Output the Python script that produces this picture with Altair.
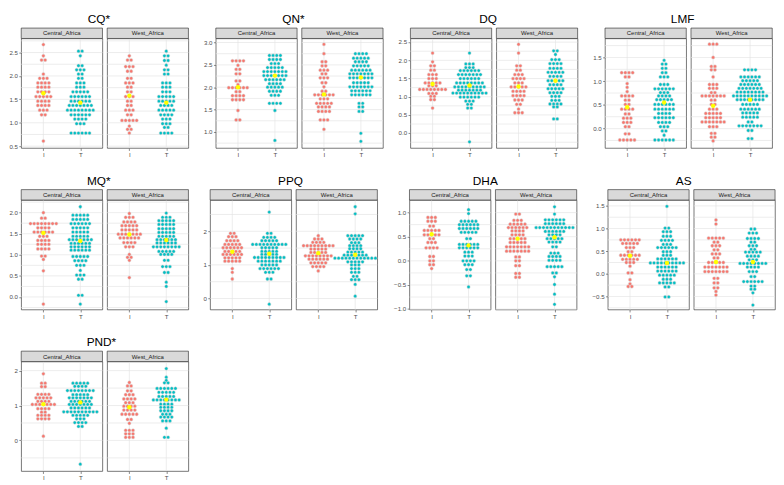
import altair as alt
import pandas as pd

REGIONS = ["Central_Africa", "West_Africa"]
GROUPS = ["I", "T"]
GROUP_COLORS = ["#F8766D", "#00BFC4"]
MEAN_COLOR = "#FFFF00"

PANEL_ROWS = [["CQ*", "QN*", "DQ", "LMF"], ["MQ*", "PPQ", "DHA", "AS"], ["PND*"]]

# (value, number of dots in that row) for each group
CQ_CA_I = [(2.67, 1), (2.43, 1), (2.34, 2), (2.04, 1), (1.95, 3), (1.85, 4), (1.76, 4), (1.66, 4), (1.56, 5), (1.46, 4), (1.37, 4), (1.27, 3), (1.17, 2), (0.61, 1)]
CQ_CA_T = [(2.53, 2), (2.43, 1), (2.22, 2), (2.13, 3), (2.04, 2), (1.95, 2), (1.85, 3), (1.76, 3), (1.66, 5), (1.56, 6), (1.46, 6), (1.37, 7), (1.27, 8), (1.17, 6), (1.08, 4), (0.98, 3), (0.78, 6)]
CQ_WA_I = [(2.43, 1), (2.34, 2), (2.20, 3), (2.10, 2), (1.95, 2), (1.85, 3), (1.76, 2), (1.66, 2), (1.56, 3), (1.46, 2), (1.37, 2), (1.27, 3), (1.17, 2), (1.05, 5), (0.93, 1), (0.86, 2), (0.78, 1)]
CQ_WA_T = [(2.53, 1), (2.43, 2), (2.33, 2), (2.23, 1), (2.13, 2), (2.04, 2), (1.85, 3), (1.76, 3), (1.66, 3), (1.56, 5), (1.46, 5), (1.37, 4), (1.27, 5), (1.17, 4), (1.08, 3), (0.98, 3), (0.90, 2), (0.78, 4)]

QN_CA_I = [(2.59, 4), (2.49, 1), (2.40, 2), (2.30, 2), (2.14, 2), (2.06, 1), (1.99, 6), (1.90, 2), (1.81, 4), (1.72, 4), (1.48, 1), (1.27, 2)]
QN_CA_T = [(2.71, 4), (2.62, 4), (2.53, 3), (2.44, 5), (2.35, 7), (2.26, 7), (2.17, 6), (2.08, 4), (2.00, 5), (1.91, 4), (1.82, 3), (1.64, 4), (1.48, 1), (0.81, 1)]
QN_WA_I = [(2.96, 1), (2.75, 1), (2.57, 2), (2.48, 2), (2.38, 3), (2.30, 2), (2.21, 3), (2.10, 2), (2.01, 1), (1.91, 2), (1.83, 6), (1.74, 3), (1.64, 5), (1.56, 4), (1.46, 4), (1.27, 3), (1.06, 1)]
QN_WA_T = [(2.75, 4), (2.65, 5), (2.57, 4), (2.48, 5), (2.38, 6), (2.30, 7), (2.21, 7), (2.10, 5), (2.01, 7), (1.92, 6), (1.83, 6), (1.64, 2), (1.56, 2), (1.46, 2), (0.97, 1), (0.79, 1)]

DQ_CA_I = [(2.20, 1), (1.96, 1), (1.85, 2), (1.73, 2), (1.61, 3), (1.50, 3), (1.38, 5), (1.30, 3), (1.20, 8), (1.09, 3), (1.01, 2), (0.92, 2), (0.69, 1)]
DQ_CA_T = [(2.20, 1), (1.90, 3), (1.80, 3), (1.72, 6), (1.61, 7), (1.50, 6), (1.38, 8), (1.27, 9), (1.18, 7), (1.10, 10), (0.99, 6), (0.88, 3), (0.79, 2), (0.69, 2), (-0.24, 1)]
DQ_WA_I = [(2.44, 1), (2.20, 1), (1.85, 2), (1.73, 2), (1.61, 3), (1.50, 4), (1.38, 3), (1.27, 5), (1.15, 4), (1.03, 4), (0.91, 3), (0.79, 2), (0.66, 1), (0.56, 3)]
DQ_WA_T = [(2.26, 2), (2.16, 1), (2.02, 3), (1.91, 4), (1.78, 4), (1.67, 5), (1.56, 4), (1.44, 5), (1.33, 4), (1.22, 5), (1.11, 4), (1.01, 3), (0.90, 3), (0.80, 4), (0.72, 2), (0.39, 2)]

LMF_CA_I = [(1.18, 4), (1.09, 2), (0.95, 1), (0.87, 1), (0.78, 1), (0.69, 4), (0.60, 2), (0.51, 2), (0.41, 4), (0.31, 2), (0.22, 3), (0.13, 3), (0.04, 2), (-0.11, 2), (-0.24, 5)]
LMF_CA_T = [(1.44, 1), (1.36, 2), (1.27, 2), (1.18, 2), (1.09, 3), (0.93, 3), (0.84, 6), (0.76, 3), (0.69, 4), (0.61, 5), (0.51, 6), (0.41, 6), (0.32, 4), (0.23, 6), (0.13, 4), (0.04, 3), (-0.05, 2), (-0.14, 1), (-0.24, 6)]
LMF_WA_I = [(1.78, 3), (1.50, 1), (1.31, 2), (1.24, 2), (1.09, 1), (0.93, 3), (0.85, 3), (0.76, 2), (0.69, 7), (0.60, 2), (0.51, 2), (0.41, 3), (0.32, 5), (0.23, 5), (0.14, 7), (0.04, 3), (-0.10, 2), (-0.18, 2), (-0.26, 1)]
LMF_WA_T = [(1.24, 4), (1.09, 6), (1.01, 5), (0.93, 6), (0.85, 7), (0.77, 8), (0.69, 10), (0.61, 8), (0.51, 5), (0.41, 6), (0.33, 5), (0.24, 5), (0.14, 2), (0.06, 7), (-0.04, 2), (-0.21, 2)]

MQ_CA_I = [(2.00, 1), (1.87, 2), (1.74, 8), (1.64, 4), (1.54, 6), (1.44, 3), (1.34, 4), (1.25, 4), (1.14, 4), (0.97, 2), (0.89, 1), (0.62, 1), (-0.17, 1)]
MQ_CA_T = [(2.14, 1), (1.94, 5), (1.84, 5), (1.74, 6), (1.64, 5), (1.54, 5), (1.44, 5), (1.36, 7), (1.27, 6), (1.19, 6), (1.11, 6), (0.96, 5), (0.86, 4), (0.75, 3), (0.63, 1), (0.52, 3), (0.42, 2), (0.04, 2), (-0.17, 1)]
MQ_WA_I = [(1.98, 1), (1.89, 3), (1.78, 4), (1.69, 5), (1.59, 5), (1.49, 7), (1.40, 6), (1.29, 4), (1.19, 3), (1.01, 1), (0.94, 2), (0.87, 1), (0.46, 1)]
MQ_WA_T = [(1.99, 1), (1.89, 3), (1.81, 5), (1.72, 5), (1.62, 5), (1.53, 5), (1.44, 5), (1.36, 6), (1.28, 6), (1.19, 8), (1.08, 5), (1.01, 4), (0.87, 2), (0.72, 3), (0.58, 2), (0.35, 1), (0.25, 1), (-0.11, 1)]

PPQ_CA_I = [(1.94, 2), (1.84, 3), (1.72, 4), (1.61, 5), (1.51, 6), (1.40, 5), (1.31, 6), (1.21, 5), (1.11, 5), (0.89, 1), (0.78, 1), (0.58, 1)]
PPQ_CA_T = [(2.57, 1), (1.94, 2), (1.82, 4), (1.72, 5), (1.61, 10), (1.51, 5), (1.40, 5), (1.31, 5), (1.22, 9), (1.11, 7), (1.00, 5), (0.89, 6), (0.78, 3), (0.58, 2), (-0.17, 1)]
PPQ_WA_I = [(1.87, 1), (1.77, 3), (1.67, 4), (1.57, 9), (1.47, 5), (1.37, 5), (1.27, 8), (1.17, 6), (1.06, 5), (0.95, 4), (0.82, 1)]
PPQ_WA_T = [(2.73, 1), (2.52, 1), (1.87, 5), (1.77, 4), (1.66, 3), (1.57, 4), (1.48, 4), (1.38, 5), (1.29, 7), (1.20, 12), (1.09, 5), (1.00, 3), (0.89, 3), (0.78, 3), (0.66, 2), (0.56, 3), (0.42, 1), (0.07, 1)]

DHA_CA_I = [(0.90, 3), (0.82, 3), (0.72, 2), (0.63, 5), (0.54, 5), (0.46, 2), (0.38, 3), (0.27, 4), (0.09, 2), (0.00, 2), (-0.08, 2), (-0.16, 1)]
DHA_CA_T = [(1.06, 1), (0.98, 1), (0.82, 5), (0.75, 6), (0.67, 6), (0.59, 5), (0.46, 2), (0.34, 6), (0.27, 6), (0.18, 3), (0.10, 3), (0.00, 4), (-0.08, 3), (-0.18, 2), (-0.31, 2), (-0.54, 1)]
DHA_WA_I = [(0.97, 2), (0.84, 3), (0.76, 5), (0.69, 6), (0.62, 4), (0.54, 4), (0.46, 5), (0.38, 5), (0.29, 7), (0.20, 7), (0.08, 2), (0.00, 2), (-0.10, 2), (-0.26, 2), (-0.34, 2)]
DHA_WA_T = [(1.12, 1), (0.97, 1), (0.85, 6), (0.77, 6), (0.69, 11), (0.61, 6), (0.54, 4), (0.46, 5), (0.39, 4), (0.29, 2), (0.16, 3), (0.09, 4), (0.01, 4), (-0.12, 5), (-0.25, 2), (-0.33, 1), (-0.49, 1), (-0.69, 1), (-0.90, 1)]

AS_CA_I = [(0.75, 6), (0.67, 5), (0.58, 3), (0.49, 2), (0.41, 6), (0.32, 5), (0.25, 3), (0.17, 1), (0.02, 2), (-0.13, 1), (-0.22, 1), (-0.28, 2)]
AS_CA_T = [(1.49, 1), (1.01, 2), (0.93, 3), (0.83, 3), (0.74, 4), (0.65, 3), (0.58, 6), (0.49, 3), (0.41, 3), (0.33, 6), (0.24, 10), (0.15, 6), (0.06, 6), (-0.03, 5), (-0.12, 3), (-0.20, 5), (-0.29, 2), (-0.51, 2)]
AS_WA_I = [(1.19, 1), (1.10, 1), (0.79, 5), (0.70, 2), (0.62, 3), (0.53, 2), (0.44, 3), (0.35, 2), (0.25, 5), (0.15, 7), (0.05, 7), (-0.10, 2), (-0.20, 2), (-0.31, 2), (-0.39, 1), (-0.47, 1)]
AS_WA_T = [(0.99, 2), (0.90, 3), (0.78, 4), (0.70, 2), (0.62, 3), (0.54, 2), (0.48, 5), (0.39, 4), (0.31, 3), (0.23, 8), (0.15, 4), (0.05, 3), (-0.06, 2), (-0.17, 6), (-0.27, 2), (-0.34, 2), (-0.42, 1), (-0.69, 1)]

PND_CA_I = [(1.91, 1), (1.64, 2), (1.54, 2), (1.32, 4), (1.22, 5), (1.12, 4), (1.03, 7), (0.91, 4), (0.81, 2), (0.72, 4), (0.62, 4), (0.12, 1)]
PND_CA_T = [(1.64, 5), (1.55, 4), (1.43, 8), (1.31, 5), (1.22, 7), (1.12, 6), (1.03, 7), (0.93, 6), (0.82, 10), (0.72, 5), (0.62, 3), (0.51, 4), (0.40, 2), (-0.68, 1)]
PND_WA_I = [(1.66, 1), (1.56, 2), (1.42, 2), (1.31, 3), (1.19, 4), (1.08, 3), (0.98, 4), (0.87, 4), (0.75, 5), (0.60, 2), (0.49, 1), (0.29, 3), (0.19, 3), (0.09, 3)]
PND_WA_T = [(2.06, 1), (1.81, 1), (1.72, 1), (1.65, 2), (1.49, 6), (1.38, 5), (1.26, 5), (1.16, 8), (1.04, 4), (0.95, 4), (0.85, 4), (0.75, 3), (0.67, 4), (0.56, 3), (0.35, 1), (0.09, 2)]

# group means (yellow dots): CA_I, CA_T, WA_I, WA_T
MEANS = {
    "CQ*": [1.63, 1.43, 1.58, 1.43],
    "QN*": [2.00, 2.26, 1.84, 2.22],
    "DQ": [1.35, 1.31, 1.28, 1.44],
    "LMF": [0.45, 0.55, 0.48, 0.61],
    "MQ*": [1.52, 1.33, 1.48, 1.35],
    "PPQ": [1.39, 1.33, 1.35, 1.30],
    "DHA": [0.55, 0.32, 0.46, 0.49],
    "AS": [0.40, 0.24, 0.26, 0.26],
    "PND*": [1.04, 1.09, 0.95, 1.17],
}

Y_DOMAIN = {
    "CQ*": [0.46, 2.80], "QN*": [0.64, 3.09], "DQ": [-0.41, 2.60], "LMF": [-0.41, 1.90],
    "MQ*": [-0.30, 2.30], "PPQ": [-0.33, 2.93], "DHA": [-1.01, 1.26], "AS": [-0.79, 1.63],
    "PND*": [-0.88, 2.26],
}
MAJOR = {
    "CQ*": [0.5, 1.0, 1.5, 2.0, 2.5], "QN*": [1.0, 1.5, 2.0, 2.5, 3.0],
    "DQ": [0.0, 0.5, 1.0, 1.5, 2.0, 2.5], "LMF": [0.0, 0.5, 1.0, 1.5],
    "MQ*": [0.0, 0.5, 1.0, 1.5, 2.0], "PPQ": [0, 1, 2],
    "DHA": [-1.0, -0.5, 0.0, 0.5, 1.0], "AS": [-0.5, 0.0, 0.5, 1.0, 1.5], "PND*": [0, 1, 2],
}
MINOR = {
    "CQ*": [0.75, 1.25, 1.75, 2.25, 2.75], "QN*": [0.75, 1.25, 1.75, 2.25, 2.75],
    "DQ": [-0.25, 0.25, 0.75, 1.25, 1.75, 2.25], "LMF": [-0.25, 0.25, 0.75, 1.25, 1.75],
    "MQ*": [-0.25, 0.25, 0.75, 1.25, 1.75, 2.25], "PPQ": [0.5, 1.5, 2.5],
    "DHA": [-0.75, -0.25, 0.25, 0.75], "AS": [-0.75, -0.25, 0.25, 0.75, 1.25], "PND*": [-0.5, 0.5, 1.5],
}
FMT = {"PPQ": "d", "PND*": "d"}

GROUP_DATA = {
    "CQ*": [CQ_CA_I, CQ_CA_T, CQ_WA_I, CQ_WA_T],
    "QN*": [QN_CA_I, QN_CA_T, QN_WA_I, QN_WA_T],
    "DQ": [DQ_CA_I, DQ_CA_T, DQ_WA_I, DQ_WA_T],
    "LMF": [LMF_CA_I, LMF_CA_T, LMF_WA_I, LMF_WA_T],
    "MQ*": [MQ_CA_I, MQ_CA_T, MQ_WA_I, MQ_WA_T],
    "PPQ": [PPQ_CA_I, PPQ_CA_T, PPQ_WA_I, PPQ_WA_T],
    "DHA": [DHA_CA_I, DHA_CA_T, DHA_WA_I, DHA_WA_T],
    "AS": [AS_CA_I, AS_CA_T, AS_WA_I, AS_WA_T],
    "PND*": [PND_CA_I, PND_CA_T, PND_WA_I, PND_WA_T],
}

W = 86
H = 116
STRIP = 11
DOT_PX = 3.9
XDOM = [0.4, 2.6]
STEP = DOT_PX / W * (XDOM[1] - XDOM[0])
FONT = "Liberation Sans"
GRID = "#e4e4e4"


def dot_rows(bins, gi):
    rows = []
    for y, n in bins:
        for k in range(n):
            rows.append({"x": gi + 1 + (k - (n - 1) / 2) * STEP, "y": y, "g": GROUPS[gi]})
    return rows


def subplot(panel, ri):
    groups = GROUP_DATA[panel]
    pts = pd.DataFrame(dot_rows(groups[2 * ri], 0) + dot_rows(groups[2 * ri + 1], 1))
    means = pd.DataFrame({"x": [1, 2], "y": MEANS[panel][2 * ri:2 * ri + 2], "g": GROUPS})
    grid_y = pd.DataFrame({"v": MAJOR[panel] + MINOR[panel]})
    grid_x = pd.DataFrame({"v": [1, 2]})
    xs = alt.Scale(domain=XDOM, nice=False, zero=False)
    ys = alt.Scale(domain=Y_DOMAIN[panel], nice=False, zero=False)
    if ri == 0:
        yaxis = alt.Axis(values=MAJOR[panel], title=None, format=FMT.get(panel, ".1f"),
                         grid=False, labelOverlap=False, labelFlush=False)
    else:
        yaxis = None
    xaxis = alt.Axis(values=[1, 2], title=None, grid=False, labelOverlap=False, labelFlush=False,
                     labelExpr="datum.value == 1 ? 'I' : 'T'")

    hgrid = alt.Chart(grid_y).mark_rule(color=GRID, strokeWidth=0.7).encode(
        y=alt.Y("v:Q", scale=ys, axis=yaxis)
    )
    vgrid = alt.Chart(grid_x).mark_rule(color=GRID, strokeWidth=0.7).encode(
        x=alt.X("v:Q", scale=xs, axis=xaxis)
    )

    strip_df = pd.DataFrame({"r": [REGIONS[ri]]})
    strip_rect = alt.Chart(strip_df).mark_rect(
        fill="#d9d9d9", stroke="#333333", strokeWidth=0.7
    ).encode(x=alt.value(0), x2=alt.value(W), y=alt.value(-STRIP), y2=alt.value(0))
    strip_text = alt.Chart(strip_df).mark_text(
        fontSize=6.3, color="#1a1a1a", font=FONT, baseline="middle"
    ).encode(x=alt.value(W / 2), y=alt.value(-STRIP / 2 + 0.3), text="r:N")

    dots = alt.Chart(pts).mark_circle(size=12, stroke="#d6d6d6", strokeWidth=0.5, opacity=1).encode(
        x=alt.X("x:Q", scale=xs, axis=xaxis),
        y=alt.Y("y:Q", scale=ys, axis=yaxis),
        color=alt.Color("g:N", scale=alt.Scale(domain=GROUPS, range=GROUP_COLORS), legend=None),
    )
    mean_pts = alt.Chart(means).mark_circle(size=22, color=MEAN_COLOR, opacity=1).encode(
        x=alt.X("x:Q", scale=xs, axis=xaxis), y=alt.Y("y:Q", scale=ys, axis=yaxis)
    )
    return alt.layer(hgrid, vgrid, dots, mean_pts, strip_rect, strip_text).properties(width=W, height=H)


def panel_chart(panel):
    return alt.hconcat(
        subplot(panel, 0), subplot(panel, 1), spacing=3,
        title=alt.Title(panel, fontSize=12.5, fontWeight="normal", font=FONT, color="black",
                        anchor="middle", offset=2),
    )


rows = [alt.hconcat(*[panel_chart(p) for p in row], spacing=14) for row in PANEL_ROWS]
chart = alt.vconcat(*rows, spacing=17).properties(
    padding={"left": 0, "top": -9, "right": 0, "bottom": 0}
)
chart = chart.configure_view(stroke="#333333", strokeWidth=0.7).configure_axis(
    domain=False, labelFont=FONT, labelFontSize=6.5, labelColor="#4d4d4d", labelPadding=1.5,
    tickSize=2.5, tickColor="#333333", tickWidth=0.6,
)

chart.save("out.html", embed_options={"renderer": "svg", "actions": False})
